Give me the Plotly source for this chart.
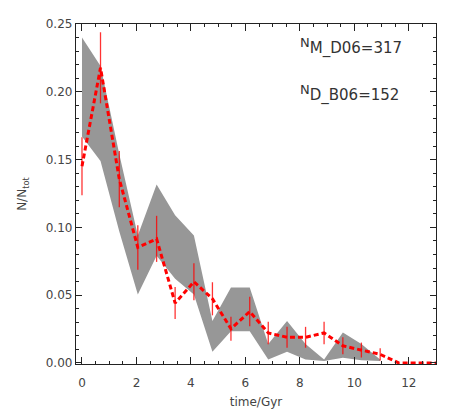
import plotly.graph_objects as go

# time bins (Gyr)
time_gyr = [0.0, 0.68, 1.37, 2.05, 2.74, 3.42, 4.11, 4.79, 5.47, 6.16,
            6.84, 7.53, 8.21, 8.89, 9.58, 10.26, 10.95, 11.63, 12.32, 13.0]

# M_D06 sample (red dashed line with error bars)
md06_frac = [0.1451, 0.2177, 0.1356, 0.0852, 0.0915, 0.0442, 0.0599, 0.0473, 0.0252, 0.0379,
             0.0221, 0.0189, 0.0189, 0.0221, 0.0126, 0.0095, 0.0063, 0.0, 0.0, 0.0]
md06_err = [0.0214, 0.0262, 0.0207, 0.0164, 0.0170, 0.0118, 0.0137, 0.0122, 0.0089, 0.0109,
            0.0083, 0.0077, 0.0077, 0.0083, 0.0063, 0.0055, 0.0045, None, None, None]

# D_B06 sample (grey band, upper / lower edge)
db06_upper = [0.240, 0.219, 0.154, 0.094, 0.1316, 0.109, 0.094, 0.031, 0.0556, 0.0556,
              0.014, 0.031, 0.014, 0.0025, 0.0225, 0.0140, 0.0025]
db06_lower = [0.167, 0.149, 0.097, 0.0505, 0.079, 0.062, 0.0505, 0.0083, 0.0234, 0.0234,
              0.0025, 0.0083, 0.0025, 0.0015, 0.0039, 0.0020, 0.0015]

n_md06 = 317
n_db06 = 152

band_t = time_gyr[:len(db06_upper)]

fig = go.Figure()

# grey band
fig.add_trace(go.Scatter(x=band_t, y=db06_lower, mode="lines",
                         line=dict(width=0, color="#979797"), showlegend=False,
                         hoverinfo="skip"))
fig.add_trace(go.Scatter(x=band_t, y=db06_upper, mode="lines", fill="tonexty",
                         fillcolor="#979797", line=dict(width=0, color="#979797"),
                         showlegend=False))

# red dashed line + error bars
fig.add_trace(go.Scatter(x=time_gyr, y=md06_frac, mode="lines",
                         line=dict(color="red", width=3, dash="5px,3px"),
                         error_y=dict(type="data", array=md06_err, visible=True,
                                      color="rgba(255,0,0,0.8)", thickness=1.3, width=0),
                         showlegend=False))

font_main = "DejaVu Sans, Arial, sans-serif"

def label(sub, n):
    return "<sup><span style='font-size:13px'>N</span></sup>" + sub + "=" + str(n)

fig.add_annotation(text=label("M_D06", n_md06), xref="paper", yref="paper",
                   x=0.618, y=0.935, xanchor="left", yanchor="middle", showarrow=False,
                   font=dict(size=15, color="#333333", family=font_main))
fig.add_annotation(text=label("D_B06", n_db06), xref="paper", yref="paper",
                   x=0.618, y=0.795, xanchor="left", yanchor="middle", showarrow=False,
                   font=dict(size=15, color="#333333", family=font_main))

axis_style = dict(showline=True, linecolor="#222222", linewidth=1.3, mirror="ticks",
                  ticks="inside", tickcolor="#222222", tickwidth=1.2, showgrid=False,
                  zeroline=False, automargin=False,
                  tickfont=dict(size=12, color="#444444", family=font_main),
                  title_font=dict(size=12, color="#444444", family=font_main))

fig.update_xaxes(range=[-0.22, 13.0], tickvals=[0, 2, 4, 6, 8, 10, 12], ticklen=7,
                 minor=dict(dtick=0.5, tick0=0, ticklen=3, ticks="inside", tickcolor="#222222"),
                 title_text="time/Gyr", title_standoff=9, ticklabelstandoff=7, **axis_style)
fig.update_yaxes(range=[-0.0008, 0.25], tickvals=[0, 0.05, 0.1, 0.15, 0.2, 0.25],
                 tickformat=".2f", ticklen=6,
                 minor=dict(dtick=0.01, tick0=0, ticklen=3, ticks="inside", tickcolor="#222222"),
                 title_text="N/N<sub>tot</sub>", title_standoff=16, **axis_style)

# page body adds an 8px offset, so the figure is drawn 8px smaller
fig.update_layout(width=450, height=405, margin=dict(l=68, r=22, t=16, b=49),
                  plot_bgcolor="white", paper_bgcolor="white")

fig.write_html("out.html")
